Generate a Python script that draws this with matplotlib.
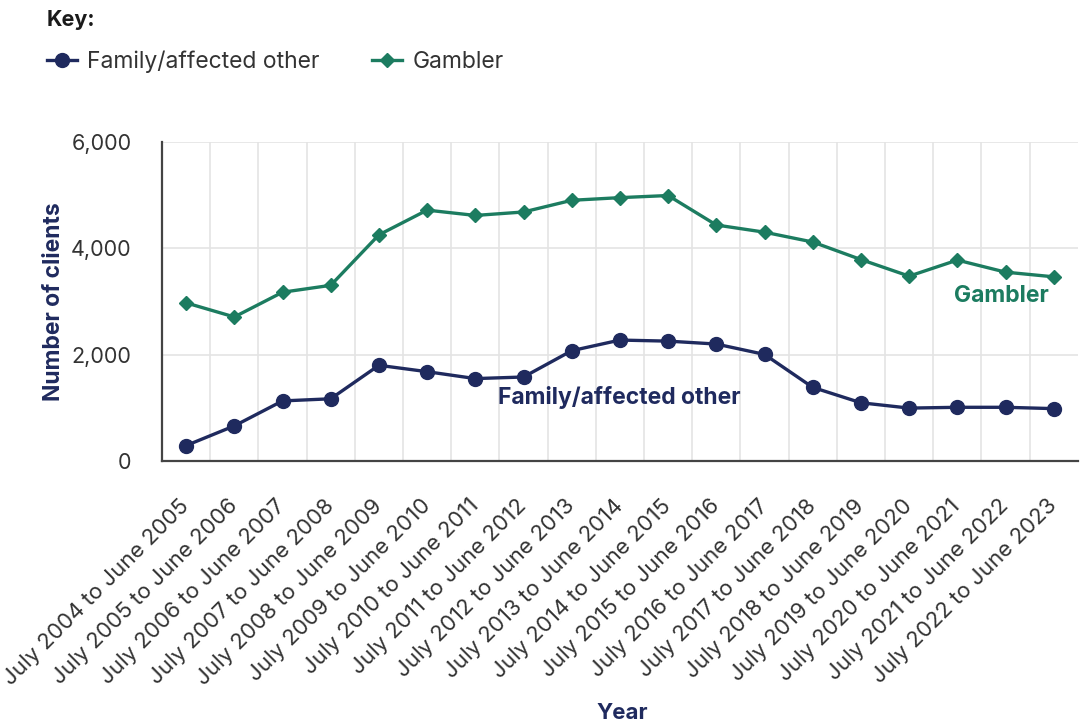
import matplotlib
matplotlib.use("Agg")
import matplotlib.pyplot as plt
from matplotlib.lines import Line2D
from matplotlib.ticker import FuncFormatter, FixedLocator

plt.rcParams['font.family'] = ['Inter', 'DejaVu Sans']

periods = [
    "July 2004 to June 2005", "July 2005 to June 2006", "July 2006 to June 2007",
    "July 2007 to June 2008", "July 2008 to June 2009", "July 2009 to June 2010",
    "July 2010 to June 2011", "July 2011 to June 2012", "July 2012 to June 2013",
    "July 2013 to June 2014", "July 2014 to June 2015", "July 2015 to June 2016",
    "July 2016 to June 2017", "July 2017 to June 2018", "July 2018 to June 2019",
    "July 2019 to June 2020", "July 2020 to June 2021", "July 2021 to June 2022",
    "July 2022 to June 2023",
]
family = [290, 660, 1130, 1170, 1800, 1680, 1550, 1580, 2075,
          2275, 2255, 2200, 2005, 1385, 1095, 995, 1010, 1010, 985]
gambler = [2975, 2710, 3175, 3305, 4255, 4720, 4620, 4685, 4905,
           4955, 4995, 4440, 4305, 4120, 3790, 3478, 3780, 3553, 3465]
y_ticks = [0, 2000, 4000, 6000]

NAVY = "#1f2a5e"
GREEN = "#1c7c60"
TEXT = "#333333"

fig = plt.figure(figsize=(10.8, 7.28), dpi=100)
ax = fig.add_axes([0.15, 0.3668, 0.848, 0.438])

x = list(range(len(periods)))
ax.plot(x, family, color=NAVY, lw=2.4, marker='o', ms=10, zorder=3)
ax.plot(x, gambler, color=GREEN, lw=2.4, marker='D', ms=7, zorder=3)

ax.set_xlim(-0.5, len(periods) - 0.5)
ax.set_ylim(0, 6000)
ax.yaxis.set_major_locator(FixedLocator(y_ticks))
ax.yaxis.set_major_formatter(FuncFormatter(lambda v, p: f"{int(v):,}"))
ax.set_xticks(x)
ax.set_xticklabels(periods, rotation=45, ha='right', va='center',
                   rotation_mode='anchor', fontsize=16, color=TEXT)
ax.set_xticks([i + 0.5 for i in x[:-1]], minor=True)
ax.tick_params(axis='both', which='both', length=0)
ax.tick_params(axis='x', pad=30)
ax.tick_params(axis='y', pad=22, labelsize=15.5, labelcolor=TEXT)

ax.grid(True, axis='y', which='major', color='#e4e4e4', lw=1.2)
ax.grid(True, axis='x', which='minor', color='#e4e4e4', lw=1.2)
ax.set_axisbelow(True)
for s in ('top', 'right'):
    ax.spines[s].set_visible(False)
for s in ('left', 'bottom'):
    ax.spines[s].set_color('#444444')
    ax.spines[s].set_linewidth(1.6)

ax.set_ylabel("Number of clients", fontsize=16.5, fontweight='bold',
              color=NAVY, labelpad=4)
fig.text(0.576, 0.021, "Year", fontsize=16, fontweight='bold', color=NAVY,
         ha='center', va='center')

ax.text(11.5, 1190, "Family/affected other", fontsize=16.5, fontweight='bold',
        color=NAVY, ha='right', va='center')
ax.text(17.9, 3110, "Gambler", fontsize=16.5, fontweight='bold',
        color=GREEN, ha='right', va='center')

fig.text(0.0435, 0.972, "Key:", fontsize=15.5, fontweight='bold',
         color='#1a1a1a', ha='left', va='center')
handles = [
    Line2D([], [], color=NAVY, lw=2.4, marker='o', ms=10),
    Line2D([], [], color=GREEN, lw=2.4, marker='D', ms=7),
]
fig.legend(handles, ["Family/affected other", "Gambler"], loc='center left',
           bbox_to_anchor=(0.0435, 0.915), ncol=2, frameon=False,
           fontsize=16.5, handlelength=1.3, handletextpad=0.45,
           columnspacing=2.3, borderpad=0, borderaxespad=0, labelcolor=TEXT)

fig.savefig("out.png", dpi=100, facecolor='white')
